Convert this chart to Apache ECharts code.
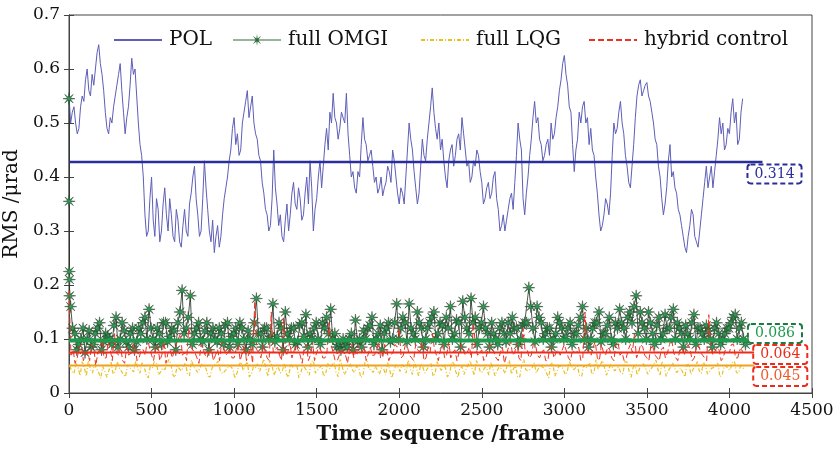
<!DOCTYPE html>
<html>
<head>
<meta charset="utf-8">
<script src="https://cdn.jsdelivr.net/npm/echarts@6/dist/echarts.min.js"></script>
<style>html,body{margin:0;padding:0;background:#fff}#c{width:835px;height:452px}</style>
</head>
<body>
<div id="c"></div>
<script>
// ---- data ----
const xTicks = [0, 500, 1000, 1500, 2000, 2500, 3000, 3500, 4000, 4500];
const yTicks = [0, 0.1, 0.2, 0.3, 0.4, 0.5, 0.6, 0.7];
const seriesNames = ['POL', 'full OMGI', 'full LQG', 'hybrid control'];

// POL: two interleaved runs, one value every 20 frames (A from frame 0, B from frame 10)
const polStep = 20, polStartA = 0, polStartB = 10;
const polValuesA = [
0.55,0.52,0.50,0.49,0.55,0.58,0.56,0.59,0.60,0.645,0.59,0.52,0.48,0.50,0.55,0.59,0.56,0.48,0.53,0.62,
0.60,0.50,0.44,0.33,0.30,0.40,0.29,0.34,0.30,0.38,0.30,0.33,0.28,0.32,0.27,0.34,0.29,0.37,0.42,0.33,
0.30,0.43,0.34,0.28,0.26,0.31,0.29,0.36,0.40,0.45,0.51,0.48,0.45,0.52,0.56,0.53,0.50,0.47,0.43,0.37,
0.33,0.31,0.45,0.35,0.33,0.28,0.35,0.33,0.39,0.34,0.36,0.33,0.40,0.43,0.30,0.36,0.43,0.42,0.49,0.52,
0.555,0.50,0.49,0.52,0.555,0.44,0.41,0.37,0.40,0.51,0.46,0.44,0.42,0.40,0.38,0.365,0.39,0.41,0.45,0.40,
0.35,0.37,0.40,0.50,0.45,0.38,0.37,0.47,0.43,0.50,0.565,0.49,0.50,0.47,0.40,0.43,0.46,0.44,0.48,0.51,
0.45,0.43,0.40,0.42,0.44,0.39,0.36,0.39,0.37,0.41,0.34,0.31,0.30,0.34,0.37,0.39,0.50,0.45,0.33,0.40,
0.47,0.54,0.51,0.46,0.44,0.47,0.50,0.48,0.53,0.58,0.625,0.57,0.52,0.41,0.47,0.50,0.54,0.51,0.49,0.44,
0.37,0.30,0.33,0.35,0.37,0.50,0.49,0.54,0.48,0.42,0.38,0.46,0.55,0.58,0.56,0.575,0.54,0.50,0.46,0.40,
0.33,0.38,0.46,0.41,0.37,0.33,0.29,0.26,0.31,0.33,0.28,0.30,0.36,0.42,0.40,0.38,0.44,0.51,0.50,0.46,
0.48,0.545,0.52,0.47,0.545
];
const polValuesB = [
0.50,0.53,0.48,0.53,0.54,0.60,0.55,0.57,0.63,0.61,0.56,0.49,0.51,0.53,0.57,0.61,0.52,0.51,0.57,0.59,
0.55,0.46,0.40,0.29,0.36,0.32,0.36,0.28,0.35,0.33,0.36,0.29,0.34,0.28,0.31,0.30,0.35,0.40,0.36,0.29,
0.36,0.38,0.30,0.32,0.29,0.27,0.33,0.38,0.43,0.49,0.46,0.44,0.50,0.54,0.51,0.55,0.48,0.44,0.39,0.34,
0.30,0.36,0.38,0.31,0.29,0.32,0.30,0.37,0.35,0.38,0.32,0.37,0.35,0.38,0.34,0.40,0.38,0.46,0.45,0.50,
0.51,0.47,0.52,0.50,0.48,0.40,0.38,0.41,0.46,0.47,0.43,0.45,0.39,0.37,0.40,0.38,0.42,0.39,0.43,0.37,
0.38,0.35,0.45,0.47,0.41,0.35,0.42,0.44,0.47,0.53,0.52,0.47,0.45,0.43,0.38,0.45,0.42,0.47,0.45,0.48,
0.42,0.39,0.43,0.45,0.41,0.35,0.38,0.36,0.40,0.36,0.30,0.33,0.32,0.36,0.34,0.44,0.47,0.36,0.37,0.44,
0.51,0.50,0.47,0.43,0.46,0.44,0.47,0.51,0.56,0.61,0.59,0.53,0.46,0.45,0.52,0.53,0.50,0.46,0.45,0.40,
0.33,0.31,0.36,0.33,0.44,0.48,0.52,0.50,0.44,0.39,0.42,0.51,0.57,0.55,0.57,0.55,0.52,0.47,0.42,0.36,
0.35,0.43,0.40,0.38,0.34,0.31,0.27,0.29,0.34,0.29,0.27,0.33,0.39,0.38,0.42,0.41,0.47,0.48,0.45,0.49,
0.52,0.50,0.46,0.52
];

// full OMGI: transient frames 0..4, then two interleaved runs of one value every 25 frames
const omgiStartValues = [0.545, 0.355, 0.225, 0.21, 0.18];
const omgiStep = 25, omgiStartA = 10, omgiStartB = 22;
const omgiValuesA = [
0.16,0.11,0.09,0.12,0.10,0.085,0.11,0.13,0.095,0.105,0.09,0.14,0.10,0.115,0.085,0.12,0.095,0.11,0.14,0.155,
0.10,0.12,0.09,0.13,0.105,0.115,0.13,0.19,0.12,0.18,0.11,0.13,0.095,0.13,0.11,0.10,0.12,0.09,0.13,0.105,
0.12,0.13,0.10,0.115,0.09,0.175,0.11,0.12,0.10,0.165,0.105,0.12,0.15,0.10,0.12,0.095,0.13,0.145,0.11,0.12,
0.10,0.13,0.14,0.155,0.11,0.09,0.10,0.085,0.11,0.135,0.10,0.115,0.12,0.14,0.10,0.125,0.11,0.13,0.10,0.165,
0.12,0.13,0.165,0.11,0.15,0.12,0.10,0.13,0.15,0.11,0.125,0.14,0.16,0.11,0.13,0.17,0.12,0.175,0.14,0.12,
0.16,0.11,0.13,0.10,0.12,0.11,0.13,0.14,0.12,0.10,0.13,0.195,0.12,0.16,0.13,0.11,0.12,0.10,0.14,0.12,
0.105,0.13,0.11,0.125,0.16,0.12,0.10,0.13,0.15,0.11,0.125,0.10,0.13,0.155,0.12,0.14,0.13,0.18,0.15,0.12,
0.15,0.11,0.125,0.10,0.145,0.12,0.155,0.13,0.11,0.125,0.10,0.145,0.12,0.11,0.125,0.10,0.12,0.11,0.10,0.12,
0.13,0.145,0.12,0.10
];
const omgiValuesB = [
0.12,0.08,0.10,0.075,0.115,0.09,0.12,0.08,0.11,0.10,0.125,0.085,0.13,0.095,0.11,0.08,0.12,0.13,0.10,0.12,
0.085,0.11,0.13,0.095,0.12,0.08,0.15,0.11,0.14,0.09,0.12,0.10,0.115,0.08,0.12,0.095,0.11,0.125,0.085,0.11,
0.09,0.12,0.08,0.10,0.13,0.11,0.085,0.12,0.105,0.095,0.13,0.08,0.11,0.12,0.09,0.125,0.105,0.085,0.10,0.13,
0.09,0.12,0.11,0.10,0.085,0.08,0.09,0.10,0.08,0.095,0.085,0.10,0.125,0.09,0.11,0.08,0.12,0.095,0.13,0.10,
0.14,0.095,0.12,0.10,0.13,0.085,0.12,0.14,0.10,0.13,0.09,0.12,0.10,0.135,0.085,0.14,0.11,0.13,0.09,0.13,
0.12,0.085,0.11,0.09,0.13,0.095,0.11,0.12,0.09,0.125,0.13,0.16,0.095,0.14,0.10,0.12,0.085,0.11,0.13,0.10,
0.12,0.09,0.11,0.14,0.10,0.085,0.12,0.13,0.095,0.11,0.14,0.09,0.12,0.13,0.10,0.15,0.16,0.11,0.13,0.10,
0.13,0.09,0.14,0.11,0.12,0.14,0.10,0.12,0.085,0.11,0.13,0.09,0.12,0.10,0.115,0.085,0.13,0.09,0.11,0.12,
0.14,0.10,0.13,0.09
];

// full LQG: two interleaved runs, one value every 25 frames
const lqgStep = 25, lqgStartA = 5, lqgStartB = 17;
const lqgValuesA = [
0.05,0.036,0.047,0.058,0.031,0.044,0.053,0.038,0.049,0.029,0.057,0.041,0.046,0.034,0.052,0.043,0.061,0.037,0.05,0.028,
0.047,0.055,0.039,0.043,0.062,0.033,0.05,0.041,0.056,0.032,0.048,0.038,0.054,0.045,0.03,0.051,0.059,0.036,0.044,0.049,
0.027,0.053,0.042,0.058,0.035,0.047,0.04,0.063,0.031,0.05,0.044,0.037,0.055,0.029,0.048,0.052,0.039,0.046,0.033,0.06,
0.042,0.051,0.036,0.045,0.057,0.03,0.049,0.041,0.054,0.038,0.047,0.032,0.059,0.043,0.05,0.035,0.046,0.056,0.028,0.052,
0.04,0.048,0.061,0.034,0.045,0.053,0.037,0.05,0.031,0.058,0.042,0.047,0.036,0.055,0.029,0.049,0.044,0.06,0.033,0.051,
0.039,0.046,0.057,0.032,0.048,0.043,0.054,0.035,0.05,0.03,0.062,0.041,0.047,0.037,0.053,0.045,0.028,0.056,0.04,0.049,
0.034,0.058,0.043,0.05,0.031,0.046,0.055,0.038,0.044,0.06,0.033,0.052,0.041,0.048,0.036,0.057,0.029,0.05,0.045,0.054,
0.035,0.047,0.061,0.032,0.049,0.042,0.056,0.038,0.046,0.03,0.053,0.044,0.058,0.036,0.05,0.04,0.047,0.055,0.033,0.051,
0.043,0.059,0.037,0.048
];
const lqgValuesB = [
0.04,0.055,0.032,0.048,0.06,0.037,0.045,0.027,0.052,0.042,0.035,0.058,0.047,0.03,0.05,0.039,0.044,0.056,0.033,0.049,
0.058,0.034,0.046,0.04,0.053,0.029,0.05,0.043,0.036,0.061,0.045,0.038,0.052,0.031,0.047,0.055,0.04,0.034,0.05,0.044,
0.036,0.057,0.042,0.03,0.049,0.054,0.038,0.046,0.06,0.033,0.048,0.041,0.035,0.053,0.045,0.028,0.051,0.043,0.058,0.037,
0.045,0.031,0.055,0.048,0.039,0.062,0.034,0.047,0.042,0.05,0.029,0.056,0.044,0.038,0.052,0.046,0.033,0.059,0.041,0.048,
0.053,0.037,0.045,0.058,0.032,0.049,0.043,0.055,0.036,0.047,0.051,0.03,0.057,0.04,0.046,0.034,0.052,0.044,0.06,0.038,
0.047,0.033,0.055,0.041,0.049,0.036,0.06,0.045,0.029,0.052,0.043,0.038,0.056,0.034,0.048,0.042,0.053,0.031,0.05,0.045,
0.039,0.057,0.044,0.032,0.051,0.047,0.035,0.062,0.042,0.049,0.03,0.054,0.045,0.037,0.058,0.041,0.048,0.033,0.053,0.046,
0.036,0.05,0.043,0.059,0.031,0.047,0.055,0.038,0.045,0.052,0.034,0.049,0.041,0.057,0.035,0.046,0.053,0.03,0.048,0.044,
0.056,0.038,0.05,0.042
];

// hybrid control: two interleaved runs, one value every 25 frames
const hybStep = 25, hybStartA = 0, hybStartB = 12;
const hybValuesA = [
0.19,0.08,0.065,0.09,0.07,0.06,0.085,0.075,0.10,0.065,0.08,0.11,0.07,0.06,0.085,0.075,0.09,0.065,0.08,0.10,
0.07,0.085,0.06,0.095,0.075,0.065,0.09,0.11,0.075,0.12,0.08,0.065,0.09,0.07,0.085,0.06,0.08,0.095,0.07,0.085,
0.065,0.09,0.075,0.06,0.085,0.17,0.075,0.09,0.065,0.15,0.08,0.07,0.14,0.075,0.065,0.09,0.07,0.085,0.06,0.095,
0.075,0.08,0.065,0.13,0.075,0.06,0.08,0.07,0.085,0.065,0.09,0.075,0.06,0.085,0.07,0.095,0.065,0.08,0.07,0.09,
0.12,0.07,0.085,0.065,0.09,0.075,0.06,0.085,0.11,0.07,0.08,0.065,0.095,0.075,0.06,0.09,0.07,0.085,0.13,0.07,
0.08,0.065,0.09,0.075,0.06,0.085,0.07,0.095,0.075,0.065,0.12,0.08,0.07,0.09,0.065,0.08,0.06,0.085,0.075,0.07,
0.09,0.065,0.08,0.075,0.06,0.15,0.075,0.085,0.065,0.09,0.07,0.08,0.06,0.095,0.075,0.065,0.09,0.11,0.075,0.085,
0.065,0.09,0.07,0.06,0.085,0.075,0.10,0.065,0.08,0.07,0.09,0.06,0.085,0.075,0.065,0.145,0.07,0.085,0.06,0.08,
0.075,0.09,0.065,0.08
];
const hybValuesB = [
0.07,0.055,0.085,0.06,0.075,0.09,0.05,0.08,0.065,0.095,0.06,0.075,0.085,0.055,0.07,0.09,0.06,0.08,0.07,0.085,
0.06,0.09,0.07,0.055,0.08,0.065,0.10,0.07,0.06,0.085,0.075,0.055,0.09,0.065,0.08,0.07,0.06,0.085,0.075,0.065,
0.08,0.06,0.09,0.07,0.055,0.08,0.065,0.09,0.06,0.075,0.085,0.06,0.07,0.095,0.065,0.08,0.055,0.09,0.07,0.06,
0.085,0.065,0.075,0.09,0.06,0.07,0.08,0.055,0.09,0.065,0.075,0.085,0.06,0.07,0.08,0.065,0.09,0.06,0.075,0.085,
0.065,0.09,0.07,0.06,0.08,0.095,0.065,0.075,0.085,0.06,0.09,0.07,0.065,0.08,0.06,0.09,0.075,0.065,0.085,0.07,
0.06,0.08,0.09,0.065,0.075,0.055,0.085,0.07,0.095,0.06,0.08,0.065,0.09,0.07,0.075,0.06,0.085,0.065,0.08,0.07,
0.09,0.06,0.075,0.085,0.065,0.08,0.07,0.095,0.06,0.075,0.085,0.065,0.09,0.07,0.06,0.08,0.075,0.065,0.09,0.07,
0.06,0.085,0.07,0.08,0.065,0.09,0.075,0.06,0.085,0.07,0.08,0.065,0.09,0.075,0.06,0.085,0.07,0.08,0.065,0.075,
0.09,0.065,0.08,0.07
];

// horizontal reference lines and their boxed labels
const meanNames = ['POL', 'full OMGI', 'hybrid control', 'full LQG'];
const meanLevels = [0.428, 0.097, 0.075, 0.051];
const meanLabels = ['0.314', '0.086', '0.064', '0.045'];
const meanEnds = [4200, 4130, 4150, 4150];

// ---- styling ----
const serif = 'DejaVu Serif';
const colPOL = '#5e5eb8';
const colOMGI = '#1f2d1f', colStar = '#27a050';
const colLQG = '#e8c224', colHyb = '#ea3322';
const meanColors = ['#2a2e98', '#1d9a4c', '#ee2a1a', '#f2a11e'];
const labelColors = ['#2a2e98', '#1d9a4c', '#ee2a1a', '#f05a28'];
const boxColors = ['#2a2e98', '#1d7a40', '#ee2a1a', '#ee2a1a'];
const meanWidths = [2.5, 4, 2, 2];
const labelOffsets = [[-14, 12], [-2, -7], [0, 2], [0, 11]];

function starPts(cx, cy, ro, ri) {
  let s = '';
  for (let k = 0; k < 16; k++) {
    const a = k * Math.PI / 8 - Math.PI / 2;
    const r = k % 2 === 0 ? ro : ri;
    s += (k === 0 ? 'M' : 'L') + (cx + r * Math.cos(a)).toFixed(2) + ',' + (cy + r * Math.sin(a)).toFixed(2) + ' ';
  }
  return s + 'Z ';
}
const STAR = 'path://' + starPts(10, 10, 10, 2.6);
// legend icon: thin line with a small star in the middle (48 x 12 box)
const STAR_LEGEND = 'path://M0,5.5 L48,5.5 L48,6.5 L0,6.5 Z ' + starPts(24, 6, 6, 1.6);

function run(vals, start, step) { return vals.map((v, i) => [start + i * step, v]); }
function merge(a, b) { return a.concat(b).sort((p, q) => p[0] - q[0]); }

const polData = merge(run(polValuesA, polStartA, polStep), run(polValuesB, polStartB, polStep));
const omgiData = omgiStartValues.map((v, i) => [i, v])
  .concat(merge(run(omgiValuesA, omgiStartA, omgiStep), run(omgiValuesB, omgiStartB, omgiStep)));
const lqgData = merge(run(lqgValuesA, lqgStartA, lqgStep), run(lqgValuesB, lqgStartB, lqgStep));
const hybData = merge(run(hybValuesA, hybStartA, hybStep), run(hybValuesB, hybStartB, hybStep));

const meanSeries = meanLevels.map((m, k) => ({
  name: meanNames[k] + ' level',
  type: 'line', silent: true, symbol: 'none', z: 5,
  lineStyle: { color: meanColors[k], width: meanWidths[k] },
  endLabel: {
    show: true, distance: 0, offset: labelOffsets[k],
    formatter: meanLabels[k], fontFamily: serif, fontSize: 14, color: labelColors[k],
    borderColor: boxColors[k], borderWidth: 2, borderType: [5, 3], borderRadius: 2,
    padding: [2, 6, 1, 6], backgroundColor: '#fff'
  },
  data: [[0, m], [meanEnds[k], m]]
}));

const legendLefts = [108, 228, 415, 583];
const legends = seriesNames.map((n, k) => ({
  data: [k === 1 ? { name: n, icon: STAR_LEGEND, itemStyle: { color: '#2b6a38', borderWidth: 0 } } : n],
  left: legendLefts[k], top: 25, itemWidth: 48, itemHeight: 12, itemGap: 0,
  itemStyle: k === 1 ? {} : { opacity: 0 },
  textStyle: { fontFamily: serif, fontSize: 20, color: '#111', padding: [0, 0, 0, 2] },
  selectedMode: false
}));

const axisCommon = {
  axisLine: { show: true, lineStyle: { color: '#444' } },
  axisTick: { inside: true, length: 5, lineStyle: { color: '#444' } },
  splitLine: { show: false }
};

const chart = echarts.init(document.getElementById('c'), null, { renderer: 'canvas' });
chart.setOption({
  animation: false,
  backgroundColor: '#fff',
  legend: legends,
  grid: { left: 69, right: 23, top: 15, bottom: 59, show: true, borderColor: '#444', borderWidth: 1,
          containLabel: false, outerBoundsMode: 'none' },
  xAxis: [Object.assign({
    type: 'value', min: xTicks[0], max: xTicks[xTicks.length - 1], interval: 500,
    name: 'Time sequence /frame', nameLocation: 'middle', nameGap: 32,
    nameTextStyle: { fontFamily: serif, fontSize: 20, fontWeight: 'bold', color: '#111' },
    axisLabel: { fontFamily: serif, fontSize: 17, color: '#111', margin: 9, formatter: v => String(v) }
  }, axisCommon), Object.assign({
    type: 'value', position: 'top', min: 0, max: 4500, interval: 500, axisLabel: { show: false }
  }, axisCommon)],
  yAxis: [Object.assign({
    type: 'value', min: yTicks[0], max: yTicks[yTicks.length - 1], interval: 0.1,
    name: 'RMS /μrad', nameLocation: 'middle', nameGap: 43,
    nameTextStyle: { fontFamily: serif, fontSize: 20, color: '#111' },
    axisLabel: { fontFamily: serif, fontSize: 17, color: '#111', margin: 9, formatter: v => (Math.round(v * 10) / 10).toString() }
  }, axisCommon), Object.assign({
    type: 'value', position: 'right', min: 0, max: 0.7, interval: 0.1, axisLabel: { show: false }
  }, axisCommon)],
  series: [
    { name: 'POL', type: 'line', data: polData, symbol: 'none',
      lineStyle: { color: colPOL, width: 1 }, itemStyle: { color: colPOL }, z: 2 },
    { name: 'full OMGI', type: 'line', data: omgiData, symbol: STAR, symbolSize: 12, showSymbol: true,
      lineStyle: { color: colOMGI, width: 0.8 },
      itemStyle: { color: colStar, borderColor: '#2c3f2c', borderWidth: 0.5 }, z: 3 },
    { name: 'full LQG', type: 'line', data: lqgData, symbol: 'none',
      lineStyle: { color: colLQG, width: 1.2, type: [4, 2, 1, 2] }, itemStyle: { color: colLQG }, z: 3 },
    { name: 'hybrid control', type: 'line', data: hybData, symbol: 'none',
      lineStyle: { color: colHyb, width: 1, type: [6, 3] }, itemStyle: { color: colHyb }, z: 4 }
  ].concat(meanSeries)
});
</script>
</body>
</html>
